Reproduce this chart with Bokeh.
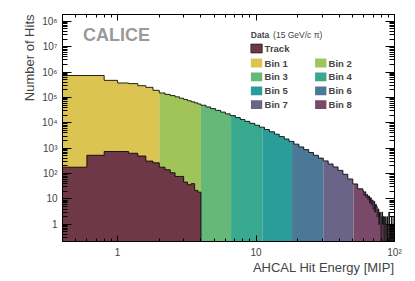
import math
from bokeh.plotting import figure
from bokeh.models import Range1d, LogAxis, FixedTicker, Label, BoxAnnotation, CustomJSTickFormatter, Title
from bokeh.embed import file_html
from bokeh.resources import INLINE

# ---------------- data ----------------
total_edges = [0.4, 0.6, 0.8, 1.0, 1.2, 1.4, 1.6, 1.8, 2.0, 2.2, 2.4, 2.6, 2.8, 3.0, 3.2, 3.4, 3.6, 3.8, 4.0,
               4.35, 4.7, 5.1, 5.55, 6.0, 6.5, 7.1, 7.7, 8.3, 9.0, 9.8, 10.6, 11.5, 12.5, 13.6, 14.7, 16.0,
               17.3, 18.8, 20.4, 22.1, 24.0, 26.0, 28.2, 30.6, 33.2, 36.0, 39.1, 42.4, 46.0, 50.0, 54.2, 59,
               60, 61, 62, 63, 64, 65, 66, 67, 68, 69, 70, 71, 72, 73, 74, 75, 76, 77, 78, 79, 80,
               81, 82, 83, 84, 85, 86, 87, 88, 89, 90, 91, 92, 93, 94, 95, 96, 97, 98, 99, 100]
total_counts = [7.3e5, 7.3e5, 4.7e5, 3.7e5, 3.5e5, 2.9e5, 2.5e5, 1.9e5, 1.5e5, 1.32e5, 1.18e5, 1.05e5,
                9.3e4, 8.3e4, 7.4e4, 6.7e4, 6.1e4, 5.5e4,
                49100, 42200, 36200, 30900, 26400, 22500, 19200, 16000, 13500, 11400, 9540, 8020, 6710,
                5450, 4430, 3570, 2850, 2290, 1850, 1440, 1120, 877, 676, 524, 406, 315, 238, 182, 133,
                93.5, 61, 39, 25,
                21, 14, 19, 12, 15, 10, 13, 7, 11, 6, 9, 4, 8, 3, 6, 5, 2, 4, 1, 3, 2, 0, 3, 1, 2, 0,
                2, 1, 0, 2, 0, 1, 3, 0, 1, 0, 2, 0, 1, 0, 2]
track_edges = [0.4, 0.6, 0.8, 1.0, 1.2, 1.4, 1.6, 1.8, 2.0, 2.2, 2.4, 2.6, 2.8, 3.0, 3.2, 3.4, 3.6, 3.8, 4.0]
track_counts = [178, 525, 740, 740, 630, 490, 310, 265, 178, 141, 107, 77, 77, 46, 36, 40, 21.6, 18.5]

region_edges = [0.4, 2.0, 4.0, 6.6, 11.1, 18.2, 30.6, 50.7, 100]
region_names = ["Bin 1", "Bin 2", "Bin 3", "Bin 4", "Bin 5", "Bin 6", "Bin 7", "Bin 8"]
region_colors = ["#dcc452", "#a0c45a", "#66b878", "#38a88e", "#2a9d9a", "#4a7896", "#6a6488", "#7a4868"]
track_name = "Track"
track_color = "#6e3846"
legend_header = "Data"
legend_header_note = "(15 GeV/c \u03c0)"
brand = "CALICE"

x_tick_values = [1, 10, 100]
x_tick_labels = ["1", "10", "10\u00b2"]
y_tick_values = [1, 10, 100, 1e3, 1e4, 1e5, 1e6, 1e7, 1e8]
y_tick_labels = ["1", "10", "10\u00b2", "10\u00b3", "10\u2074", "10\u2075", "10\u2076", "10\u2077", "10\u2078"]
x_title = "AHCAL Hit Energy [MIP]"
y_title = "Number of Hits"

# ---------------- figure ----------------
FONT = "Liberation Sans"
XMIN, XMAX = 0.4, 100
YMIN, YMAX = 0.21, 1.85e8
FLOOR = 0.01
W, H = 412, 278
FL, FR, FT, FB = 62.4, 394.0, 14.0, 241.0  # frame edges in page px

p = figure(width=W, height=H, x_axis_type="log", y_axis_type="log",
           x_range=Range1d(XMIN, XMAX), y_range=Range1d(YMIN, YMAX),
           output_backend="svg", toolbar_location=None,
           min_border_left=int(round(FL)), min_border_right=int(W - FR),
           min_border_top=int(FT), min_border_bottom=int(H - FB))
p.xgrid.visible = False
p.ygrid.visible = False
p.outline_line_color = "black"
p.outline_line_width = 1
p.background_fill_color = "white"
p.border_fill_color = "white"

# region fills (step polygons)
xs_list, ys_list, cols = [], [], []
for j in range(len(region_colors)):
    a, b = region_edges[j], region_edges[j + 1]
    xs, ys = [a], [FLOOR]
    for i in range(len(total_counts)):
        l, r = total_edges[i], total_edges[i + 1]
        lo, hi = max(l, a), min(r, b)
        if lo < hi:
            v = max(total_counts[i], FLOOR)
            xs += [lo, hi]
            ys += [v, v]
    xs.append(b); ys.append(FLOOR)
    xs_list.append(xs); ys_list.append(ys); cols.append(region_colors[j])
p.patches(xs_list, ys_list, fill_color=cols, line_color=None)

def step_path(edges, counts):
    xs, ys = [], []
    for i, c in enumerate(counts):
        v = max(c, FLOOR)
        xs += [edges[i], edges[i + 1]]
        ys += [v, v]
    xs.append(edges[-1]); ys.append(FLOOR)
    return xs, ys

tx, ty = step_path(total_edges, total_counts)
p.line(tx, ty, line_color="black", line_width=1, line_alpha=0.85)

kx, ky = step_path(track_edges, track_counts)
p.patch([track_edges[0]] + kx, [FLOOR] + ky, fill_color=track_color, line_color=None)
p.line(kx, ky, line_color="black", line_width=1, line_alpha=0.85)

# ---------------- axes ----------------
x_minor = [m * 10.0 ** k for k in range(-1, 3) for m in range(2, 10)]
y_minor = [m * 10.0 ** k for k in range(-1, 9) for m in range(2, 10)]
xt = FixedTicker(ticks=x_tick_values, minor_ticks=x_minor)
yt = FixedTicker(ticks=y_tick_values, minor_ticks=y_minor)

def style(ax, tick_in, minor_in):
    ax.axis_line_color = "black"
    ax.major_tick_line_color = "black"
    ax.minor_tick_line_color = "black"
    ax.major_tick_in = tick_in
    ax.major_tick_out = 0
    ax.minor_tick_in = minor_in
    ax.minor_tick_out = 0

xa = p.xaxis[0]
xa.ticker = xt
xa.major_label_overrides = dict(zip(x_tick_values, x_tick_labels))
style(xa, 6, 3)
xa.major_label_text_font = FONT
xa.major_label_text_font_size = "10px"
xa.major_label_standoff = 5

ya = p.yaxis[0]
ya.ticker = yt
ya.major_label_overrides = dict(zip(y_tick_values, y_tick_labels))
style(ya, 9, 5)
ya.major_label_text_font = FONT
ya.major_label_text_font_size = "10px"
ya.major_label_standoff = 5

# axis titles, right/top aligned as in the original
p.add_layout(Title(text=x_title, align="right", text_font=FONT, text_font_size="13px",
                   text_font_style="normal", standoff=-5, offset=0), "below")
p.add_layout(Title(text=y_title, align="right", text_font=FONT, text_font_size="13px",
                   text_font_style="normal", standoff=6, offset=0), "left")

blank = CustomJSTickFormatter(code="return ''")
top = LogAxis(ticker=FixedTicker(ticks=x_tick_values, minor_ticks=x_minor), formatter=blank,
              major_label_text_font_size="1px", major_label_standoff=0)
style(top, 6, 3)
p.add_layout(top, "above")
right = LogAxis(ticker=FixedTicker(ticks=y_tick_values, minor_ticks=y_minor), formatter=blank,
                major_label_text_font_size="1px", major_label_standoff=0)
style(right, 9, 5)
p.add_layout(right, "right")

# ---------------- texts (screen units relative to frame, y up) ----------------
def sx(px):
    return px - FL

def sy(py):
    return FB - py

p.add_layout(Label(x=sx(83), y=sy(34.5), x_units="screen", y_units="screen", text=brand,
                   text_font=FONT, text_font_style="bold", text_font_size="18px", text_color="#9a9a9a",
                   text_align="left", text_baseline="middle"))

# legend
p.add_layout(Label(x=sx(250.7), y=sy(34.5), x_units="screen", y_units="screen", text=legend_header,
                   text_font=FONT, text_font_style="bold", text_font_size="8.5px",
                   text_align="left", text_baseline="middle"))
p.add_layout(Label(x=sx(273), y=sy(34.5), x_units="screen", y_units="screen", text=legend_header_note,
                   text_font=FONT, text_font_size="8.5px", text_align="left", text_baseline="middle"))

entries = [(track_name, track_color, 0, 0)]
for j, (nm, c) in enumerate(zip(region_names, region_colors)):
    entries.append((nm, c, 1 + j // 2, j % 2))
row_y = [48.0, 62.5, 76.4, 90.3, 104.2]
col_box = [250.8, 315.0]
col_txt = [264.5, 328.5]
for k, (nm, c, r, cidx) in enumerate(entries):
    yc = row_y[r]
    p.add_layout(BoxAnnotation(left=sx(col_box[cidx]), right=sx(col_box[cidx] + 11.3),
                               top=sy(yc - 4.4), bottom=sy(yc + 4.4),
                               left_units="screen", right_units="screen", top_units="screen",
                               bottom_units="screen", fill_color=c, fill_alpha=1,
                               line_color="#222222" if k == 0 else None, line_width=1, line_alpha=0.8))
    p.add_layout(Label(x=sx(col_txt[cidx]), y=sy(yc), x_units="screen", y_units="screen", text=nm,
                       text_font=FONT, text_font_style="bold", text_font_size="9.5px",
                       text_align="left", text_baseline="middle"))

open("out.html", "w").write(file_html(p, INLINE))
